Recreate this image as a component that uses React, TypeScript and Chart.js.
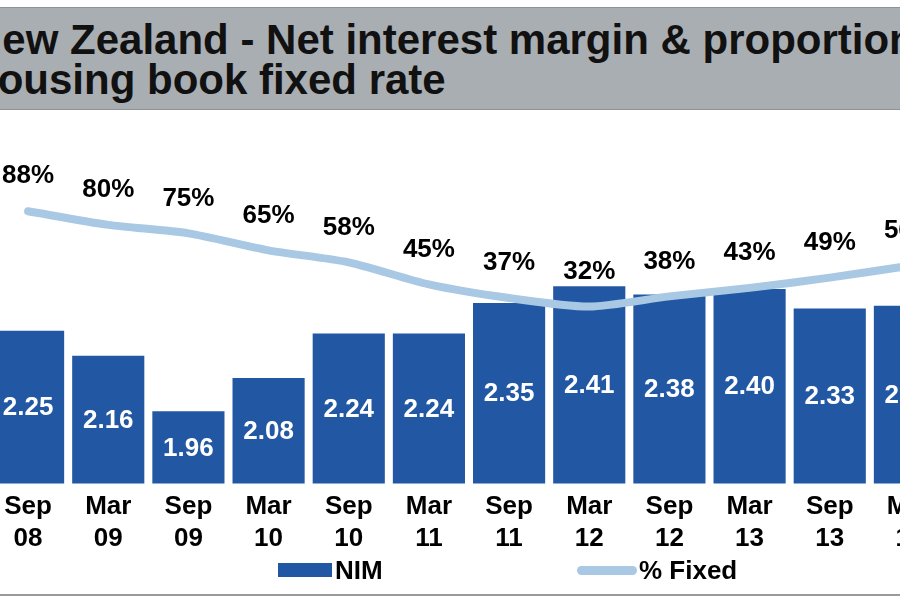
import { useEffect, useRef } from "react";
import { Chart, registerables } from "chart.js";
Chart.register(...registerables);

const FONT = '"Liberation Sans", Arial, sans-serif';
const NAVY = "#2257a4";
const LIGHT = "#a9c8e4";

// half-year periods, shown as two-line ticks
const months = ["Sep", "Mar", "Sep", "Mar", "Sep", "Mar", "Sep", "Mar", "Sep", "Mar", "Sep", "Mar"];
const years = ["08", "09", "09", "10", "10", "11", "11", "12", "12", "13", "13", "14"];
const nim = [2.25, 2.16, 1.96, 2.08, 2.24, 2.24, 2.35, 2.41, 2.38, 2.4, 2.33, 2.34];
const fixedPct = [88, 80, 75, 65, 58, 45, 37, 32, 38, 43, 49, 56];

const valueLabels = {
  id: "valueLabels",
  afterDatasetsDraw(chart: any) {
    const { ctx, scales } = chart;
    ctx.save();
    ctx.font = `bold 26px ${FONT}`;
    ctx.textAlign = "center";
    ctx.textBaseline = "middle";
    // NIM values, centred in each bar
    ctx.fillStyle = "#fff";
    nim.forEach((v, i) => {
      const x = scales.x.getPixelForValue(i);
      const top = scales.y.getPixelForValue(v);
      const base = scales.y.getPixelForValue(scales.y.min);
      ctx.fillText(v.toFixed(2), x, (top + base) / 2 + 1);
    });
    // % fixed, above the line
    ctx.fillStyle = "#000";
    fixedPct.forEach((v, i) => {
      const x = scales.x.getPixelForValue(i);
      const y = scales.y1.getPixelForValue(v);
      ctx.fillText(v + "%", x, y - 35);
    });
    ctx.restore();
  },
};

export default function App() {
  const canvasRef = useRef<HTMLCanvasElement | null>(null);

  useEffect(() => {
    if (!canvasRef.current) return;
    const chart = new Chart(canvasRef.current, {
      type: "bar",
      data: {
        labels: months.map((m, i) => [m, years[i]]),
        datasets: [
          {
            type: "bar",
            label: "NIM",
            data: nim,
            backgroundColor: NAVY,
            categoryPercentage: 1,
            barPercentage: 0.9,
            yAxisID: "y",
            order: 1,
          },
          {
            type: "line",
            label: "% Fixed",
            data: fixedPct,
            borderColor: LIGHT,
            borderWidth: 8,
            borderCapStyle: "round",
            tension: 0.25,
            pointRadius: 0,
            yAxisID: "y1",
            order: 0,
          } as any,
        ],
      },
      options: {
        animation: false,
        responsive: false,
        maintainAspectRatio: false,
        layout: { padding: { top: 50, left: 0, right: 0, bottom: 0 } },
        plugins: { legend: { display: false }, tooltip: { enabled: false } },
        scales: {
          x: {
            grid: { display: false, drawTicks: false },
            border: { display: false },
            ticks: {
              color: "#000",
              font: { family: FONT, size: 26, weight: "bold" },
              padding: 8,
              maxRotation: 0,
              autoSkip: false,
            },
          },
          y: { display: false, min: 1.7, max: 2.9 },
          y1: { display: false, min: -72, max: 124 },
        },
      },
      plugins: [valueLabels],
    });
    return () => chart.destroy();
  }, []);

  return (
    <div
      style={{
        position: "fixed",
        left: 0,
        top: 0,
        width: 900,
        height: 600,
        overflow: "hidden",
        background: "#fff",
        fontFamily: FONT,
      }}
    >
      <div
        style={{
          position: "absolute",
          left: 0,
          top: 7,
          width: 900,
          height: 101,
          background: "#a9aeb3",
          borderTop: "1px solid #8f9397",
          borderBottom: "1px solid #8f9397",
        }}
      />
      <div
        style={{
          position: "absolute",
          left: -28,
          top: 20,
          fontSize: 42,
          lineHeight: "40px",
          fontWeight: "bold",
          color: "#111",
          whiteSpace: "nowrap",
        }}
      >
        New Zealand - Net interest margin &amp; proportion of
        <br />
        housing book fixed rate
      </div>
      <canvas
        ref={canvasRef}
        width={962}
        height={462}
        style={{ position: "absolute", left: -12, top: 100, width: 962, height: 462 }}
      />
      <div style={{ position: "absolute", left: 278, top: 563, width: 54, height: 14, background: NAVY }} />
      <div
        style={{
          position: "absolute",
          left: 335,
          top: 554,
          fontSize: 26,
          lineHeight: "32px",
          fontWeight: "bold",
          color: "#000",
        }}
      >
        NIM
      </div>
      <div
        style={{
          position: "absolute",
          left: 577,
          top: 566,
          width: 60,
          height: 9,
          borderRadius: 5,
          background: LIGHT,
        }}
      />
      <div
        style={{
          position: "absolute",
          left: 639,
          top: 554,
          fontSize: 26,
          lineHeight: "32px",
          fontWeight: "bold",
          color: "#000",
        }}
      >
        % Fixed
      </div>
      <div style={{ position: "absolute", left: 0, top: 594, width: 900, height: 2, background: "#9a9a9a" }} />
    </div>
  );
}
